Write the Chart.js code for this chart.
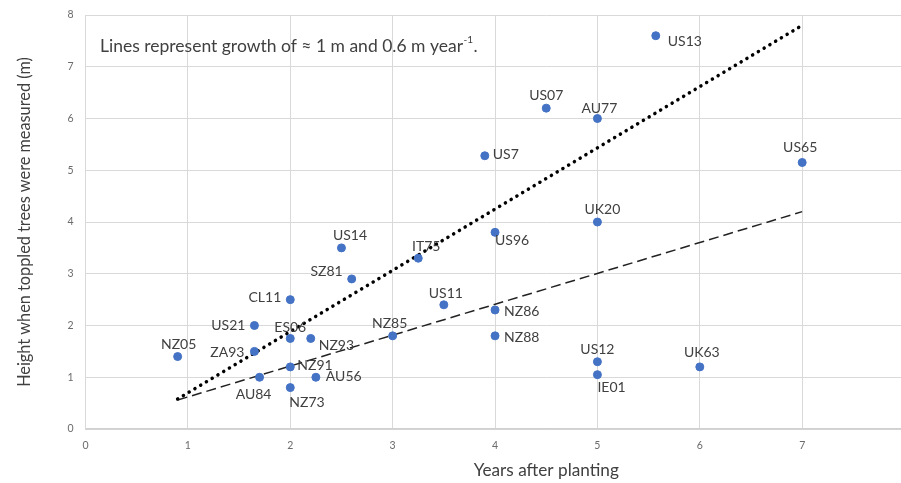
<!DOCTYPE html>
<html>
<head>
<meta charset="utf-8">
<script src="https://cdn.jsdelivr.net/npm/chart.js@4/dist/chart.umd.min.js"></script>
<style>
html,body{margin:0;padding:0;overflow:hidden;background:#fff;}
#wrap{width:901px;height:483px;overflow:hidden;position:relative;}
canvas{display:block;}
</style>
</head>
<body>
<div id="wrap"><canvas id="c" width="1020" height="483"></canvas></div>
<script>
// ---- data ----
const siteLabels = ["NZ05","AU84","ZA93","US21","CL11","ES06","NZ91","NZ73","NZ93","AU56","US14","SZ81","NZ85","IT75","US11","NZ86","NZ88","US12","IE01","UK63","US96","US7","US07","AU77","UK20","US13","US65"];
const yearsAfterPlanting = [0.9,1.7,1.65,1.65,2,2,2,2,2.2,2.25,2.5,2.6,3,3.25,3.5,4,4,5,5,6,4,3.9,4.5,5,5,5.57,7];
const heightMeasured = [1.4,1.0,1.5,2.0,2.5,1.75,1.2,0.8,1.75,1.0,3.5,2.9,1.8,3.3,2.4,2.3,1.8,1.3,1.05,1.2,3.8,5.28,6.2,6.0,4.0,7.6,5.15];
const lineYears = [0.9, 7];
const growth1mLine = [0.58, 7.8];
const growth06mLine = [0.56, 4.2];
const xTickValues = [0,1,2,3,4,5,6,7,8,9];
const yTickValues = [0,1,2,3,4,5,6,7,8];

// ---- label placement (style only) ----
// [textAlign, dx, dy]
const labelPlacement = {
  NZ05:["center",1,-12], AU84:["center",-6,17], ZA93:["right",-10,1], US21:["right",-9,0],
  CL11:["right",-9,-2], ES06:["center",0,-11], NZ91:["left",7,-1], NZ73:["left",-1,15],
  NZ93:["left",8,7], AU56:["left",10,-1], US14:["center",8.5,-12], SZ81:["right",-9,-7],
  NZ85:["center",-3,-12], IT75:["center",8,-12], US11:["center",2,-11], NZ86:["left",9,2],
  NZ88:["left",9,2], US12:["center",0,-12], IE01:["left",0,13], UK63:["center",2,-14],
  US96:["left",0,8.5], US7:["left",8,-1], US07:["center",0,-13], AU77:["center",2,-10.5],
  UK20:["center",5,-13], US13:["left",12,6], US65:["center",-2,-15]
};

const FONT = "Lato, 'Open Sans', sans-serif";
const TEXT = "#404040";

const pointData = yearsAfterPlanting.map((x,i)=>({x, y: heightMeasured[i]}));
const dotData = lineYears.map((x,i)=>({x, y: growth1mLine[i]}));
const dashData = lineYears.map((x,i)=>({x, y: growth06mLine[i]}));

const labelPlugin = {
  id: 'labels',
  afterDatasetsDraw(chart) {
    const ctx = chart.ctx;
    const meta = chart.getDatasetMeta(2);
    ctx.save();
    ctx.font = "14px " + FONT;
    ctx.fillStyle = TEXT;
    ctx.textBaseline = "middle";
    meta.data.forEach((el, i) => {
      const name = siteLabels[i];
      const p = labelPlacement[name] || ["left",8,0];
      ctx.textAlign = p[0];
      ctx.fillText(name, el.x + p[1], el.y + p[2]);
    });
    // annotation
    const ca = chart.chartArea;
    const x0 = ca.left + 14.5, y0 = ca.top + 31;
    ctx.textAlign = "left";
    ctx.font = "17.5px " + FONT;
    const main = "Lines represent growth of \u2248 1 m and 0.6 m year";
    ctx.fillText(main, x0, y0);
    let w = ctx.measureText(main).width;
    ctx.font = "10px " + FONT;
    const sup = "-1";
    ctx.fillText(sup, x0 + w + 0.5, y0 - 6);
    const w2 = ctx.measureText(sup).width;
    ctx.font = "17.5px " + FONT;
    ctx.fillText(".", x0 + w + w2 + 1, y0);
    ctx.restore();
  }
};

new Chart(document.getElementById('c'), {
  type: 'scatter',
  data: {
    datasets: [
      { label: 'dotted', data: dotData, showLine: true, borderColor: '#000', borderWidth: 3.5,
        borderDash: [0.1, 6.6], borderCapStyle: 'round', pointRadius: 0, order: 2 },
      { label: 'dashed', data: dashData, showLine: true, borderColor: '#222', borderWidth: 1.5,
        borderDash: [10, 5], pointRadius: 0, order: 3 },
      { label: 'sites', data: pointData, backgroundColor: '#4472C4', borderColor: '#4472C4',
        pointRadius: 4, pointHoverRadius: 4, order: 1 }
    ]
  },
  options: {
    responsive: false,
    animation: false,
    events: [],
    layout: { padding: { left: 15, top: 15, right: 9, bottom: 0 } },
    plugins: { legend: { display: false }, tooltip: { enabled: false } },
    scales: {
      x: {
        type: 'linear', min: 0, max: 9,
        afterBuildTicks: s => { s.ticks = xTickValues.map(v => ({value: v})); },
        afterFit: s => { s.height = 54; },
        grid: { color: '#d9d9d9', drawTicks: false, lineWidth: 1 },
        border: { color: '#d0d0d0', width: 1.5 },
        ticks: { padding: 10, color: '#6b6b6b', font: { family: FONT, size: 10.5 } },
        title: { display: true, text: 'Years after planting', color: TEXT,
                 font: { family: FONT, size: 17.2 }, padding: { top: 0, bottom: 2 } }
      },
      y: {
        type: 'linear', min: 0, max: 8,
        afterBuildTicks: s => { s.ticks = yTickValues.map(v => ({value: v})); },
        afterFit: s => { s.width = 70.5; s.paddingTop = 6; s.paddingBottom = 6; },
        grid: { color: '#d9d9d9', drawTicks: false, lineWidth: 1 },
        border: { color: '#d9d9d9', width: 1 },
        ticks: { padding: 12, color: '#6b6b6b', font: { family: FONT, size: 10.5 } },
        title: { display: true, text: 'Height when toppled trees were measured (m)', color: TEXT,
                 font: { family: FONT, size: 16.3 }, padding: { top: 0, bottom: 0 } }
      }
    }
  },
  plugins: [labelPlugin]
});
</script>
</body>
</html>
